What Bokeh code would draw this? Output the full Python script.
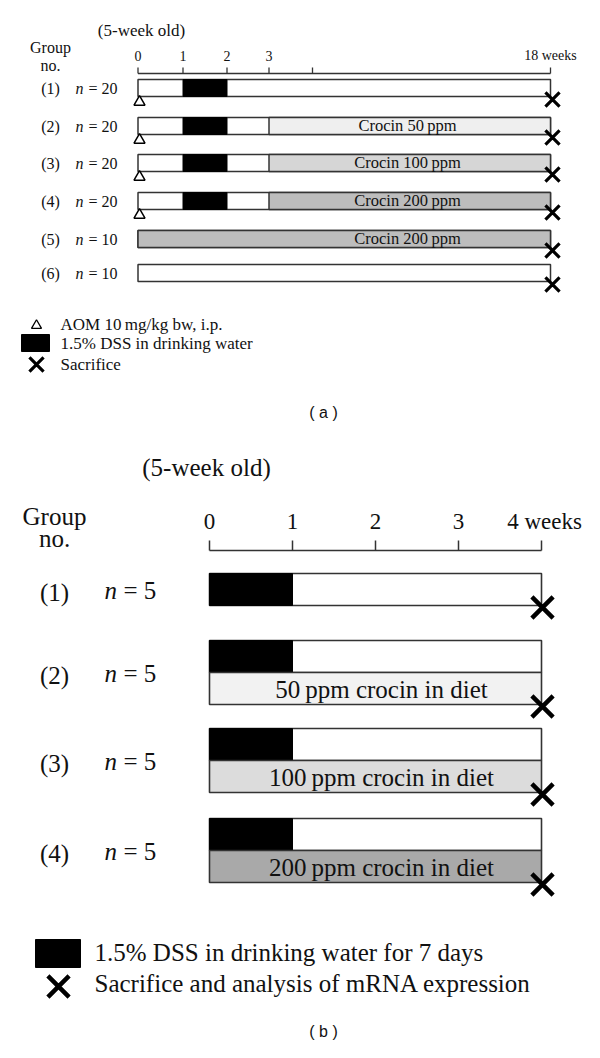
import numpy as np
from bokeh.plotting import figure
from bokeh.models import Range1d
from bokeh.core.properties import value
from bokeh.embed import file_html
from bokeh.resources import INLINE

# ---------------- DATA ----------------
# Panel (a)
a_groups = ["(1)", "(2)", "(3)", "(4)", "(5)", "(6)"]
a_n = [20, 20, 20, 20, 10, 10]
a_dss_start = [1, 1, 1, 1, None, None]
a_dss_end = [2, 2, 2, 2, None, None]
a_crocin_start = [None, 3, 3, 3, 0, None]
a_crocin_ppm = [None, 50, 100, 200, 200, None]
a_aom = [True, True, True, True, False, False]
a_end_week = 18
a_tick_weeks = [0, 1, 2, 3, 4, 18]
a_tick_labels = ["0", "1", "2", "3", "", "18 weeks"]

# Panel (b)
b_groups = ["(1)", "(2)", "(3)", "(4)"]
b_n = [5, 5, 5, 5]
b_dss_weeks = [1, 1, 1, 1]
b_crocin_ppm = [None, 50, 100, 200]
b_end_week = 4
b_tick_weeks = [0, 1, 2, 3, 4]
b_tick_labels = ["0", "1", "2", "3", "4 weeks"]

# ---------------- LAYOUT / STYLE ----------------
SERIF = value("Liberation Serif")
SANS = value("Liberation Sans")
EDGE = "#333333"
a_fill = {50: "#efefef", 100: "#d6d6d6", 200: "#bdbdbd"}
b_fill = {50: "#f2f2f2", 100: "#dcdcdc", 200: "#a9a9a9"}

# panel a timeline is drawn out of scale after week 3 (as in the original)
a_anchor_w = [0, 1, 2, 3, 4, 18]
a_anchor_px = [137.5, 182.5, 226.5, 268.5, 312, 550]
def ax_a(w):
    return float(np.interp(w, a_anchor_w, a_anchor_px))

b_x0, b_px_per_week = 209.0, 83.0
def ax_b(w):
    return b_x0 + b_px_per_week * w

a_row_y = [87.5, 125.5, 162.5, 200.5, 238.5, 272.5]
a_bar_h = 17
b_row_top = [573, 640, 728, 818]
b_bar_h = 32

W, H = 584, 1042
p = figure(width=W, height=H, x_range=Range1d(0, W), y_range=Range1d(H, 0),
           output_backend="svg", toolbar_location=None, min_border=0)
p.axis.visible = False
p.grid.visible = False
p.outline_line_color = None
p.background_fill_color = "white"


def txt(x, y, s, size, align="left", font=SERIF, style="normal", baseline="middle"):
    p.text(x=[x], y=[y], text=[s], text_font=font, text_font_size=f"{size}px",
           text_align=align, text_baseline=baseline, text_font_style=style, text_color="#111111")


# ================= PANEL (a) =================
txt(141, 30, "(5-week old)", 17, "center")
txt(50, 47, "Group", 16, "center")
txt(50, 65, "no.", 16, "center")

# axis
ax0, ax1 = ax_a(0), ax_a(a_end_week)
p.segment(x0=[ax0], y0=[73], x1=[ax1], y1=[73], line_color=EDGE, line_width=1.3)
tx = [ax_a(w) for w in a_tick_weeks]
p.segment(x0=tx, y0=[67] * len(tx), x1=tx, y1=[73] * len(tx), line_color=EDGE, line_width=1.3)
for w, lab in zip(a_tick_weeks, a_tick_labels):
    if lab:
        txt(ax_a(w), 55, lab, 14, "center")

for i, g in enumerate(a_groups):
    yc = a_row_y[i]
    top, bot = yc - a_bar_h / 2, yc + a_bar_h / 2
    p.quad(left=[ax_a(0)], right=[ax_a(a_end_week)], top=[top], bottom=[bot],
           fill_color="white", line_color=EDGE, line_width=1.5)
    if a_crocin_start[i] is not None:
        p.quad(left=[ax_a(a_crocin_start[i])], right=[ax_a(a_end_week)], top=[top], bottom=[bot],
               fill_color=a_fill[a_crocin_ppm[i]], line_color=EDGE, line_width=1.5)
        txt(407, yc - 1, f"Crocin {a_crocin_ppm[i]}\u2009ppm", 16.5, "center")
    if a_dss_start[i] is not None:
        p.quad(left=[ax_a(a_dss_start[i])], right=[ax_a(a_dss_end[i])], top=[top], bottom=[bot],
               fill_color="black", line_color="black", line_width=1)
    if a_aom[i]:
        p.scatter(x=[ax_a(0) + 1.5], y=[bot + 5.5], marker="triangle", size=11,
                  fill_color="white", line_color="black", line_width=1.5)
    p.scatter(x=[ax_a(a_end_week) + 2], y=[bot + 3], marker="x", size=20,
              line_color="black", line_width=3.2)
    txt(50, yc, g, 16, "center")
    txt(75, yc, "n", 16, "left", style="italic")
    txt(88, yc, f"= {a_n[i]}", 16, "left")

# legend (a)
p.scatter(x=[36], y=[325], marker="triangle", size=10, fill_color="white",
          line_color="black", line_width=1.3)
txt(60, 324, "AOM 10\u2009mg/kg bw, i.p.", 17)
p.quad(left=[21], right=[49], top=[334], bottom=[351], fill_color="black", line_color="black")
txt(60, 343, "1.5% DSS in drinking water", 17)
p.scatter(x=[36], y=[364], marker="x", size=20, line_color="black", line_width=3.2)
txt(60, 364, "Sacrifice", 17)

txt(323, 412, "( a )", 16, "center", font=SANS)

# ================= PANEL (b) =================
txt(206, 467, "(5-week old)", 25, "center")
txt(54, 516, "Group", 25, "center")
txt(54, 538, "no.", 25, "center")

bx0, bx1 = ax_b(0), ax_b(b_end_week)
p.segment(x0=[bx0], y0=[550], x1=[bx1], y1=[550], line_color=EDGE, line_width=1.5)
btx = [ax_b(w) for w in b_tick_weeks]
p.segment(x0=btx, y0=[540] * len(btx), x1=btx, y1=[550] * len(btx), line_color=EDGE, line_width=1.5)
for w, lab in zip(b_tick_weeks, b_tick_labels):
    txt(ax_b(w) + (3 if w == b_end_week else 0), 521, lab, 23, "center")

for i, g in enumerate(b_groups):
    top = b_row_top[i]
    bot1 = top + b_bar_h
    p.quad(left=[ax_b(0)], right=[ax_b(b_end_week)], top=[top], bottom=[bot1],
           fill_color="white", line_color=EDGE, line_width=1.6)
    p.quad(left=[ax_b(0)], right=[ax_b(b_dss_weeks[i])], top=[top], bottom=[bot1],
           fill_color="black", line_color="black", line_width=1)
    last_bot = bot1
    if b_crocin_ppm[i] is not None:
        bot2 = bot1 + b_bar_h
        p.quad(left=[ax_b(0)], right=[ax_b(b_end_week)], top=[bot1], bottom=[bot2],
               fill_color=b_fill[b_crocin_ppm[i]], line_color=EDGE, line_width=1.6)
        txt(381, (bot1 + bot2) / 2 + 1, f"{b_crocin_ppm[i]}\u2009ppm crocin in diet", 25, "center")
        last_bot = bot2
        yl = bot1 + 3
    else:
        yl = (top + bot1) / 2 + 3
    p.scatter(x=[ax_b(b_end_week) + 1], y=[last_bot + 2], marker="x", size=30,
              line_color="black", line_width=4.5)
    txt(54, yl, g, 25, "center")
    txt(104, yl - 2, "n", 25, "left", style="italic")
    txt(123, yl - 2, f"= {b_n[i]}", 25, "left")

# legend (b)
p.quad(left=[35], right=[80], top=[939], bottom=[967], fill_color="black", line_color="black")
txt(94, 952, "1.5% DSS in drinking water for 7 days", 25)
p.scatter(x=[58], y=[986], marker="x", size=30, line_color="black", line_width=4.5)
txt(94, 983, "Sacrifice and analysis of mRNA expression", 25)

txt(323, 1031, "( b )", 16, "center", font=SANS)

open("out.html", "w").write(file_html(p, INLINE))
